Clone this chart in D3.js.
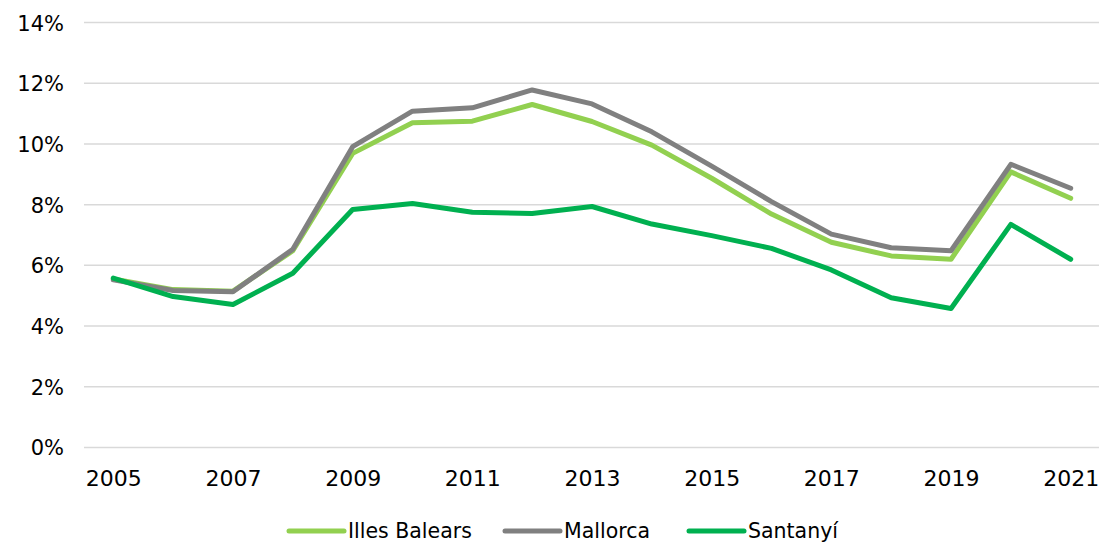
<!DOCTYPE html>
<html><head><meta charset="utf-8">
<script src="https://cdn.jsdelivr.net/npm/d3@7"></script>
<style>body{margin:0;background:#fff}svg{display:block}text{font-family:"DejaVu Sans",sans-serif;fill:#000}</style>
</head><body>
<svg id="c" width="1099" height="543"></svg>
<script>
const years = [2005,2006,2007,2008,2009,2010,2011,2012,2013,2014,2015,2016,2017,2018,2019,2020,2021];
const illesBalears = [5.55,5.20,5.15,6.48,9.69,10.70,10.75,11.30,10.74,9.96,8.87,7.69,6.76,6.31,6.20,9.08,8.21];
const mallorca = [5.52,5.17,5.13,6.53,9.91,11.08,11.19,11.78,11.32,10.40,9.27,8.10,7.03,6.58,6.48,9.33,8.54];
const santanyi = [5.58,4.97,4.71,5.74,7.84,8.04,7.75,7.71,7.94,7.36,6.98,6.56,5.85,4.93,4.58,7.35,6.20];
const yTicks = [0,2,4,6,8,10,12,14];
const xTickYears = [2005,2007,2009,2011,2013,2015,2017,2019,2021];
const seriesNames = ["Illes Balears","Mallorca","Santanyí"];
const seriesColors = ["#92D050","#808080","#00B050"];

const svg = d3.select("#c");
const x = d3.scalePoint().domain(years).range([113.3,1070.7]);
const y = d3.scaleLinear().domain([0,14]).range([447.4,22.6]);

// gridlines
svg.append("g").selectAll("line").data(yTicks).join("line")
  .attr("x1",84).attr("x2",1099).attr("y1",d=>y(d)).attr("y2",d=>y(d))
  .attr("stroke","#d9d9d9").attr("stroke-width",1.5);

// y axis labels
const yAxis = d3.axisLeft(y).tickValues(yTicks).tickFormat(d=>d+"%").tickSize(0).tickPadding(0);
const gy = svg.append("g").attr("transform","translate(64,0)").call(yAxis);
gy.select(".domain").remove();
gy.selectAll("text").attr("font-size",21).attr("font-family","DejaVu Sans").attr("fill","#000").attr("dy","0.36em");

// x axis labels
const xAxis = d3.axisBottom(x).tickValues(xTickYears).tickSize(0).tickPadding(0);
const gx = svg.append("g").attr("transform","translate(0,469)").call(xAxis);
gx.select(".domain").remove();
gx.selectAll("text").attr("font-size",22).attr("font-family","DejaVu Sans").attr("fill","#000").attr("dy","0.75em");

const data = [illesBalears, mallorca, santanyi];
const line = d3.line().x((d,i)=>x(years[i])).y(d=>y(d));
svg.append("g").selectAll("path").data(data).join("path")
  .attr("d",line).attr("fill","none")
  .attr("stroke",(d,i)=>seriesColors[i]).attr("stroke-width",5)
  .attr("stroke-linejoin","round").attr("stroke-linecap","round");

// legend
const legX = [289,505,689];
const lg = svg.append("g");
seriesNames.forEach((n,i)=>{
  lg.append("line").attr("x1",legX[i]).attr("x2",legX[i]+55).attr("y1",531).attr("y2",531)
    .attr("stroke",seriesColors[i]).attr("stroke-width",5).attr("stroke-linecap","round");
  lg.append("text").attr("x",legX[i]+59).attr("y",531).attr("dy","0.36em")
    .attr("font-size",20.5).text(n);
});
</script>
</body></html>
